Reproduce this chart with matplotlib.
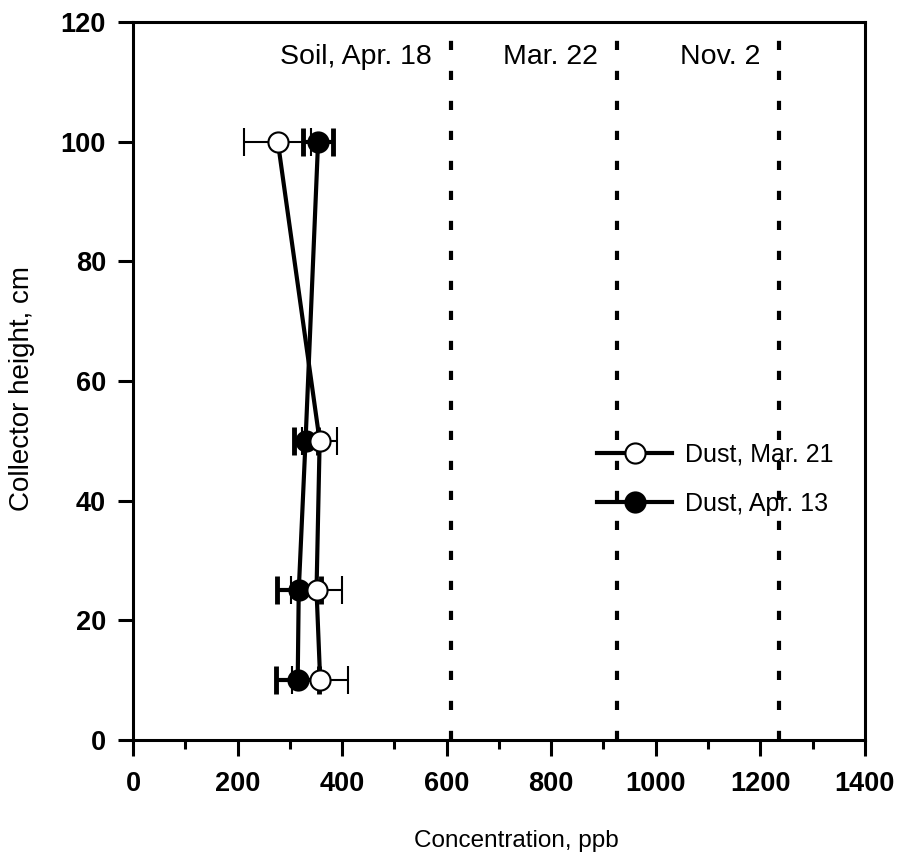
import matplotlib
matplotlib.use("Agg")
import matplotlib.pyplot as plt
from matplotlib.ticker import MultipleLocator

plt.rcParams['font.family'] = ['Liberation Sans', 'DejaVu Sans']

# collector heights (cm), top to bottom
heights = [100, 50, 25, 10]

# Dust, Mar. 21 (open circles)
mar21_conc = [277, 357, 351, 358]
mar21_err = [64, 33, 48, 54]

# Dust, Apr. 13 (filled circles)
apr13_conc = [354, 330, 317, 315]
apr13_err = [29, 23, 42, 41]

# soil sample concentrations shown as dotted lines
soil_conc = [608, 926, 1236]
soil_labels = ['Soil, Apr. 18', 'Mar. 22', 'Nov. 2']

fig = plt.figure(figsize=(8.99, 8.52), dpi=100)
ax = fig.add_axes([0.148, 0.1315, 0.814, 0.8425])

# error bars go under all markers so inner whiskers hide behind circles
ax.errorbar(apr13_conc, heights, xerr=apr13_err, fmt='none', ecolor='black',
            elinewidth=3, capsize=10, capthick=3.5, zorder=2)
ax.errorbar(mar21_conc, heights, xerr=mar21_err, fmt='none', ecolor='black',
            elinewidth=1.5, capsize=10, capthick=1.5, zorder=2)
l_apr, = ax.plot(apr13_conc, heights, '-o', color='black', lw=3, ms=14.5,
                 mfc='black', mec='black', mew=1.5, zorder=3,
                 label='Dust, Apr. 13')
l_mar, = ax.plot(mar21_conc, heights, '-o', color='black', lw=3, ms=14.5,
                 mfc='white', mec='black', mew=1.5, zorder=5,
                 label='Dust, Mar. 21')

for xc, lab in zip(soil_conc, soil_labels):
    ax.axvline(xc, color='black', lw=3, linestyle=(0, (2.2, 5)), zorder=1)
    ax.text(xc - 36, 114.2, lab, ha='right', va='center', fontsize=20.5)

ax.set_xlim(0, 1400)
ax.set_ylim(0, 120)
ax.xaxis.set_major_locator(MultipleLocator(200))
ax.xaxis.set_minor_locator(MultipleLocator(100))
ax.yaxis.set_major_locator(MultipleLocator(20))

for sp in ax.spines.values():
    sp.set_linewidth(2.2)

ax.tick_params(axis='x', which='major', direction='out', length=11.5,
               width=2.2, pad=11, labelsize=19.5)
ax.tick_params(axis='x', which='minor', direction='out', length=6.5,
               width=2.2)
ax.tick_params(axis='y', which='major', direction='out', length=10.5,
               width=2.2, pad=9, labelsize=19.5)
for lab in ax.get_xticklabels() + ax.get_yticklabels():
    lab.set_fontweight('bold')

ax.set_xlabel('Concentration, ppb', fontsize=17.5, labelpad=24)
ax.xaxis.set_label_coords(0.524, -0.125)
ax.set_ylabel('Collector height, cm', fontsize=20, labelpad=14)
ax.yaxis.set_label_coords(-0.134, 0.49)

ax.legend(handles=[l_mar, l_apr], loc='center left',
          bbox_to_anchor=(0.634, 0.363), frameon=False, fontsize=18,
          handlelength=3.0, handletextpad=0.5, labelspacing=1.0,
          borderpad=0, borderaxespad=0)

fig.savefig('out.png', dpi=100)
